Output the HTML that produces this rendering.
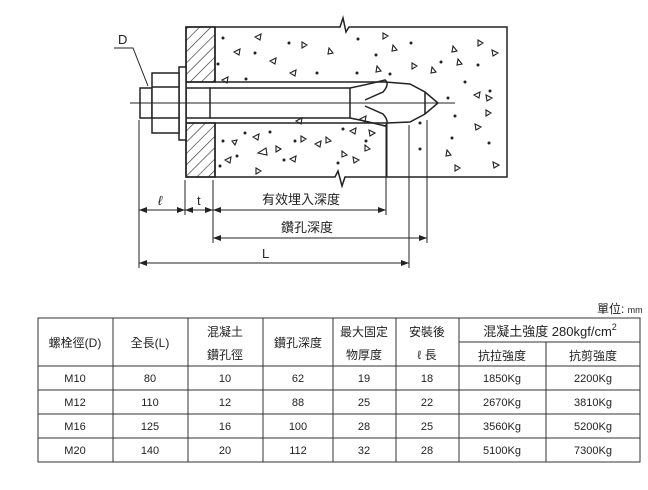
<!DOCTYPE html>
<html><head><meta charset="utf-8"><style>
body{margin:0;background:#fff;width:648px;height:490px;overflow:hidden;font-family:"Liberation Sans","Noto Sans CJK TC",sans-serif;}
svg{position:absolute;left:0;top:0}
</style></head><body>
<svg width="648" height="490" viewBox="0 0 648 490" xmlns="http://www.w3.org/2000/svg" font-family="Liberation Sans, Noto Sans CJK TC, sans-serif">
<defs>
<pattern id="h" width="8" height="8" patternUnits="userSpaceOnUse" patternTransform="rotate(45)">
<line x1="0" y1="0" x2="0" y2="8" stroke="#222" stroke-width="1.2"/></pattern>
<marker id="a" markerWidth="8" markerHeight="6" refX="8" refY="3" orient="auto"><path d="M0,0 L8,3 L0,6 z" fill="#222"/></marker>
<marker id="b" markerWidth="8" markerHeight="6" refX="0" refY="3" orient="auto"><path d="M8,0 L0,3 L8,6 z" fill="#222"/></marker>
</defs>
<g stroke="#222" stroke-width="1.5" fill="none">
<path d="M186,27 L340,27 L343,18 L346,32 L349,27 L507,27 L507,177 L345,177 L342,186 L338,171 L335,177 L186,177 Z"/>
<rect x="186" y="27" width="29" height="55" fill="url(#h)"/>
<rect x="186" y="123" width="29" height="54" fill="url(#h)"/>
<line x1="215" y1="27" x2="215" y2="82"/><line x1="215" y1="123" x2="215" y2="177"/>
<line x1="186" y1="82" x2="385" y2="82"/>
<line x1="186" y1="123" x2="387" y2="123"/>
<line x1="387" y1="123" x2="387" y2="177" stroke-width="1"/>
<rect x="140" y="88" width="12" height="30"/>
<rect x="186" y="88" width="24" height="30"/>
<line x1="210" y1="88" x2="350" y2="88"/><line x1="210" y1="118" x2="350" y2="118"/>
<line x1="350" y1="88" x2="350" y2="118"/>
<path d="M350,88 Q370,84 385,80 Q390,84 383,92 L365,100 M350,118 Q370,122 385,126 Q390,122 383,114 L365,106"/>
<path d="M385,82 L410,84 L425,92 L438,103 L425,114 L410,122 L387,123"/>
<line x1="425" y1="92" x2="425" y2="114"/>
<rect x="179" y="67" width="7" height="73" fill="#fff"/>
<path d="M152,73 L179,73 L179,133 L152,133 Z M152,87 L179,87 M152,118 L179,118" fill="#fff"/>
<line x1="130" y1="103" x2="455" y2="103" stroke-width="1"/>
<path d="M114,48 L133,48 L148,86" stroke-width="1"/>
<g stroke-width="1">
<line x1="139" y1="120" x2="139" y2="268"/>
<line x1="185" y1="180" x2="185" y2="215"/>
<line x1="213" y1="180" x2="213" y2="243"/>
<line x1="386" y1="125" x2="386" y2="215"/>
<line x1="409" y1="125" x2="409" y2="268"/>
<line x1="427" y1="120" x2="427" y2="243"/>
<line x1="139" y1="210" x2="185" y2="210" marker-start="url(#b)" marker-end="url(#a)"/>
<line x1="185" y1="210" x2="213" y2="210" marker-start="url(#b)" marker-end="url(#a)"/>
<line x1="213" y1="210" x2="386" y2="210" marker-start="url(#b)" marker-end="url(#a)"/>
<line x1="213" y1="238" x2="427" y2="238" marker-start="url(#b)" marker-end="url(#a)"/>
<line x1="139" y1="263" x2="409" y2="263" marker-start="url(#b)" marker-end="url(#a)"/>
</g>
</g>
<g fill="#222">
<circle cx="223" cy="38" r="1.5"/><circle cx="289" cy="43" r="1.5"/><circle cx="255" cy="53" r="1.5"/><circle cx="218" cy="64" r="1.5"/><circle cx="246" cy="79" r="1.5"/><circle cx="317" cy="73" r="1.5"/><circle cx="358" cy="39" r="1.5"/><circle cx="376" cy="55" r="1.5"/><circle cx="357" cy="73" r="1.5"/><circle cx="390" cy="74" r="1.5"/><circle cx="411" cy="43" r="1.5"/><circle cx="441" cy="62" r="1.5"/><circle cx="478" cy="65" r="1.5"/><circle cx="465" cy="82" r="1.5"/><circle cx="448" cy="98" r="1.5"/><circle cx="490" cy="91" r="1.5"/><circle cx="455" cy="116" r="1.5"/><circle cx="452" cy="138" r="1.5"/><circle cx="489" cy="143" r="1.5"/><circle cx="420" cy="123" r="1.5"/><circle cx="420" cy="149" r="1.5"/><circle cx="223" cy="141" r="1.5"/><circle cx="245" cy="133" r="1.5"/><circle cx="237" cy="156" r="1.5"/><circle cx="220" cy="166" r="1.5"/><circle cx="270" cy="132" r="1.5"/><circle cx="295" cy="141" r="1.5"/><circle cx="284" cy="160" r="1.5"/><circle cx="343" cy="129" r="1.5"/><circle cx="366" cy="141" r="1.5"/><circle cx="338" cy="163" r="1.5"/>
</g>
<g fill="none" stroke="#222" stroke-width="1.1">
<path d="M255,37 l6,-3 l-1,6z M234,52 l6,-3 l-1,6z M270,61 l6,-3 l-1,6z M290,73 l6,-3 l-1,6z M222,80 l6,-3 l-1,6z M302,42 l5,3 l-5,3z M329,48 l4,5 l-5,1z M383,33 l5,3 l-5,3z M393,45 l4,5 l-5,1z M377,66 l4,5 l-5,1z M412,63 l5,3 l-5,3z M432,67 l4,5 l-5,1z M453,46 l4,5 l-5,1z M458,59 l4,5 l-5,1z M478,40 l5,3 l-5,3z M498,53 l-6,-3 l1,6z M474,95 l6,-3 l-1,6z M492,98 l-6,-3 l1,6z M486,110 l5,3 l-5,3z M481,127 l-6,-3 l1,6z M447,150 l4,5 l-5,1z M455,165 l5,3 l-5,3z M499,165 l-6,-3 l1,6z M232,141 l5,-1 l-2,5z M253,137 l6,-3 l-1,6z M258,153 l8,-5 l1,7z M276,146 l5,3 l-5,3z M225,160 l6,-3 l-1,6z M296,121 l6,-3 l-1,6z M301,136 l5,3 l-5,3z M315,144 l6,-3 l-1,6z M326,137 l5,4 l-5,2z M342,151 l5,4 l-5,2z M350,131 l6,-3 l-1,6z M360,119 l6,-3 l-1,6z M365,145 l5,4 l-5,2z M256,168 l5,3 l-5,3z M290,159 l6,-3 l-1,6z M359,160 l-6,-3 l1,6z M375,133 l-6,-3 l1,6z"/>
</g>
<g font-size="13" fill="#222">
<text x="118" y="44">D</text>
<text x="158" y="205" font-style="italic">ℓ</text>
<text x="197" y="205">t</text>
<text x="262" y="204">有效埋入深度</text>
<text x="281" y="232">鑽孔深度</text>
<text x="262" y="258">L</text>
<text x="597" y="313" font-size="12">單位: <tspan font-size="9">mm</tspan></text>
</g>
<g stroke="#333" stroke-width="1" fill="none">
<rect x="38" y="318" width="602" height="144"/>
<line x1="459" y1="342" x2="640" y2="342"/>
<line x1="38" y1="366" x2="640" y2="366"/>
<line x1="38" y1="390" x2="640" y2="390"/>
<line x1="38" y1="414" x2="640" y2="414"/>
<line x1="38" y1="438" x2="640" y2="438"/>
<line x1="113" y1="318" x2="113" y2="462"/><line x1="188" y1="318" x2="188" y2="462"/>
<line x1="263" y1="318" x2="263" y2="462"/><line x1="333" y1="318" x2="333" y2="462"/>
<line x1="396" y1="318" x2="396" y2="462"/><line x1="459" y1="318" x2="459" y2="462"/>
<line x1="546" y1="342" x2="546" y2="462"/>
</g>
<g font-size="12" fill="#222" text-anchor="middle">
<text x="75" y="347">螺栓徑(D)</text>
<text x="150" y="347">全長(L)</text>
<text x="225" y="336">混凝土</text><text x="225" y="359">鑽孔徑</text>
<text x="298" y="347">鑽孔深度</text>
<text x="364" y="336">最大固定</text><text x="364" y="359">物厚度</text>
<text x="427" y="336">安裝後</text><text x="427" y="359">ℓ 長</text>
<text x="550" y="336" font-size="13">混凝土強度 280kgf/cm<tspan font-size="9" dy="-6">2</tspan></text>
<text x="502" y="360">抗拉強度</text><text x="593" y="360">抗剪強度</text>
</g>
<g font-size="11" fill="#222" text-anchor="middle">
<text x="75" y="382">M10</text><text x="150" y="382">80</text><text x="225" y="382">10</text><text x="298" y="382">62</text><text x="364" y="382">19</text><text x="427" y="382">18</text><text x="502" y="382">1850Kg</text><text x="593" y="382">2200Kg</text>
<text x="75" y="406">M12</text><text x="150" y="406">110</text><text x="225" y="406">12</text><text x="298" y="406">88</text><text x="364" y="406">25</text><text x="427" y="406">22</text><text x="502" y="406">2670Kg</text><text x="593" y="406">3810Kg</text>
<text x="75" y="430">M16</text><text x="150" y="430">125</text><text x="225" y="430">16</text><text x="298" y="430">100</text><text x="364" y="430">28</text><text x="427" y="430">25</text><text x="502" y="430">3560Kg</text><text x="593" y="430">5200Kg</text>
<text x="75" y="454">M20</text><text x="150" y="454">140</text><text x="225" y="454">20</text><text x="298" y="454">112</text><text x="364" y="454">32</text><text x="427" y="454">28</text><text x="502" y="454">5100Kg</text><text x="593" y="454">7300Kg</text>
</g>
</svg>
</body></html>
